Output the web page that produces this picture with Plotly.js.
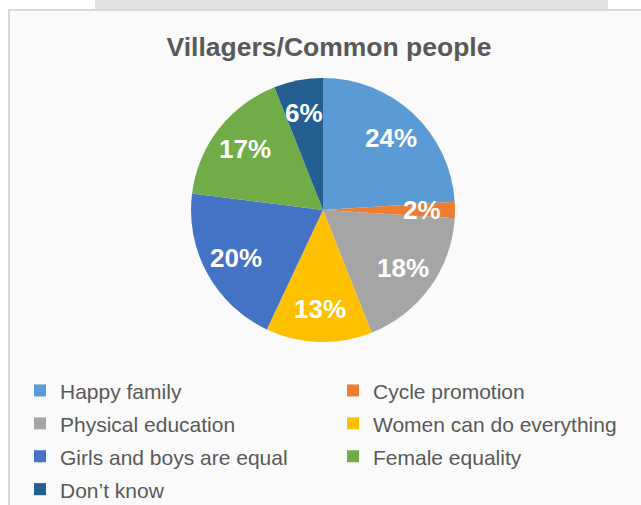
<!DOCTYPE html>
<html>
<head>
<meta charset="utf-8">
<script src="https://cdn.plot.ly/plotly-3.0.1.min.js"></script>
<style>html,body{margin:0;padding:0;background:#fff;}#chart{width:641px;height:505px;}</style>
</head>
<body>
<div id="chart"></div>
<script>
// ---- data ----
const categories = ["Happy family", "Cycle promotion", "Physical education", "Women can do everything", "Girls and boys are equal", "Female equality", "Don\u2019t know"];
const values = [24, 2, 18, 13, 20, 17, 6];
const sliceColors = ["#5B9BD5", "#ED7D31", "#A5A5A5", "#FFC000", "#4472C4", "#70AD47", "#255E91"];
const chartTitle = "Villagers/Common people";

// ---- geometry (pixels) ----
const W = 641, H = 505;
const cxPx = 323, cyPx = 210, rPx = 132;
const domX = [(cxPx - rPx) / W, (cxPx + rPx) / W];
const domY = [1 - (cyPx + rPx) / H, 1 - (cyPx - rPx) / H];

// percentage labels placed at the slice mid-angles, derived from the values
const total = values.reduce((a, b) => a + b, 0);
let cum = 0;
const annotations = values.map((v) => {
  const mid = (cum + v / 2) / total * 2 * Math.PI; cum += v;
  const rr = rPx * 0.75;
  return {
    x: (cxPx + rr * Math.sin(mid)) / W,
    y: 1 - (cyPx - rr * Math.cos(mid)) / H,
    xref: "paper", yref: "paper", showarrow: false,
    text: "<b>" + Math.round(v / total * 100) + "%</b>",
    font: {family: "Liberation Sans, Arial, sans-serif", size: 26, color: "#ffffff"},
    xanchor: "center", yanchor: "middle"
  };
});

const trace = {
  type: "pie",
  labels: categories.map(c => '<span style="font-size:21px">' + c + '</span>'),
  values: values,
  marker: {colors: sliceColors, line: {width: 0}},
  sort: false,
  direction: "clockwise",
  rotation: 0,
  textinfo: "none",
  hoverinfo: "none",
  domain: {x: domX, y: domY}
};

const layout = {
  width: W, height: H,
  margin: {l: 0, r: 0, t: 0, b: 0, autoexpand: false},
  paper_bgcolor: "#ffffff",
  font: {family: "Liberation Sans, Arial, sans-serif", color: "#595959"},
  title: {
    text: "<b>" + chartTitle + "</b>",
    x: 329 / W, xanchor: "center", y: 1 - 47 / H, yanchor: "middle",
    font: {family: "Liberation Sans, Arial, sans-serif", size: 26.5, color: "#595959"}
  },
  showlegend: true,
  legend: {
    orientation: "h",
    x: 20 / W, xanchor: "left",
    y: 1 - 369 / H, yanchor: "top",
    entrywidth: 268,
    font: {family: "Liberation Sans, Arial, sans-serif", size: 23, color: "#595959"},
    bgcolor: "rgba(0,0,0,0)",
    traceorder: "normal"
  },
  shapes: [
    {type: "rect", xref: "paper", yref: "paper", x0: 95 / W, x1: 608 / W, y0: 1 - 9 / H, y1: 1,
     fillcolor: "#e2e2e2", line: {width: 0}, layer: "below"},
    {type: "rect", xref: "paper", yref: "paper", x0: 9 / W, x1: 1.01, y0: -0.01, y1: 1 - 10 / H,
     fillcolor: "#fafafa", line: {color: "#d9d9d9", width: 2}, layer: "below"}
  ],
  annotations: annotations
};

Plotly.newPlot("chart", [trace], layout, {displayModeBar: false, staticPlot: true});
</script>
</body>
</html>
